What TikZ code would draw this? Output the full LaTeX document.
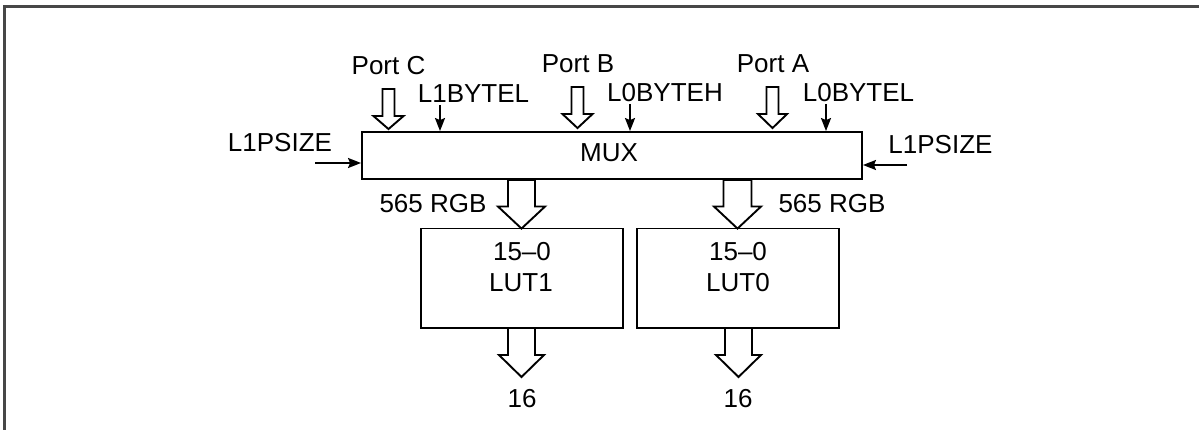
\documentclass[tikz,border=0pt]{standalone}
\usepackage{fontspec}
\setmainfont{Liberation Sans}
\usetikzlibrary{calc,arrows.meta}

% hollow bus arrow pointing down: #1 tip, #2 total length, #3 half shaft, #4 half head, #5 head length
\newcommand\busdown[5]{%
  \draw[bus] ($(#1)+(-#3,-#2)$) -- ($(#1)+(-#3,-#5)$) -- ($(#1)+(-#4,-#5)$) -- (#1)
    -- ($(#1)+(#4,-#5)$) -- ($(#1)+(#3,-#5)$) -- ($(#1)+(#3,-#2)$) -- cycle;}

\begin{document}
\begin{tikzpicture}[x=1pt,y=-1pt,
  every node/.style={font=\fontsize{26}{30}\selectfont, inner sep=0pt},
  blk/.style={draw, line width=1.9pt, minimum width=#1, minimum height=99.5pt},
  bus/.style={draw, fill=white, line width=1.9pt, line join=miter},
  sig/.style={line width=1.9pt, -{Stealth[length=13pt,width=10pt,inset=2pt]}},
  lbl/.style={anchor=base}]
\useasboundingbox (0,0) rectangle (1199,430);
% frame
\draw[line width=2.2pt, color=black!72] (4.5,430) -- (4.5,6.5) -- (1199,6.5);

% blocks
\node[draw, line width=1.9pt, minimum width=500pt, minimum height=47pt] (mux) at (612,155.5) {};
\node[lbl] (muxt) at (609,162) {MUX};
\node[blk=202pt] (lut1) at (522,278.25) {};
\node[blk=202pt] (lut0) at (738,278.25) {};
\node[lbl] (lut1a) at (522,261) {15–0};
\node[lbl] (lut1b) at (521,291) {LUT1};
\node[lbl] (lut0a) at (738,261) {15–0};
\node[lbl] (lut0b) at (738,291) {LUT0};

% port labels and their bus inputs
\node[lbl] (portC) at (388.5,75) {Port C};
\node[lbl] (portB) at (578,73) {Port B};
\node[lbl] (portA) at (773,73) {Port A};
\coordinate (tc) at ([yshift=2pt]mux.north -| 388.5,0);
\coordinate (tb) at ([yshift=3pt]mux.north -| 577.5,0);
\coordinate (ta) at ([yshift=3pt]mux.north -| 772.5,0);
\busdown{tc}{40}{6}{15}{13}
\busdown{tb}{41}{6}{15}{14}
\busdown{ta}{41}{6}{14.5}{14}

% control inputs
\node[lbl] (l1bytel) at (473.5,103) {L1BYTEL};
\node[lbl] (l0byteh) at (665,102) {L0BYTEH};
\node[lbl] (l0bytel) at (858.5,102) {L0BYTEL};
\coordinate (c1s) at (440,105);
\coordinate (c2s) at (630,104);
\coordinate (c3s) at (826,104);
\draw[sig] (c1s) -- (c1s |- mux.north);
\draw[sig] (c2s) -- (c2s |- mux.north);
\draw[sig] (c3s) -- (c3s |- mux.north);

\node[lbl] (psl) at (280,152) {L1PSIZE};
\node[lbl] (psr) at (940.5,154) {L1PSIZE};
\coordinate (pls) at (315,163);
\coordinate (prs) at (907,165);
\draw[sig] (pls) -- (pls -| mux.west);
\draw[sig] (prs) -- (prs -| mux.east);

% MUX to LUT buses
\node[lbl] (rgb1) at (433,213) {565 RGB};
\node[lbl] (rgb0) at (832,213) {565 RGB};
\coordinate (m1) at ([yshift=-1pt]lut1.north -| 521.5,0);
\coordinate (m0) at ([yshift=-1pt]lut0.north -| 737.5,0);
\busdown{m1}{48.5}{13.5}{23.5}{22}
\busdown{m0}{48.5}{14}{23.5}{22}

% LUT outputs
\coordinate (o1) at (521.5,377);
\coordinate (o0) at (738.5,377);
\busdown{o1}{49}{13.5}{22.5}{22}
\busdown{o0}{49}{13.5}{22.5}{22}
\node[lbl] (out1) at (522,407) {16};
\node[lbl] (out0) at (738,407) {16};
\end{tikzpicture}
\end{document}
